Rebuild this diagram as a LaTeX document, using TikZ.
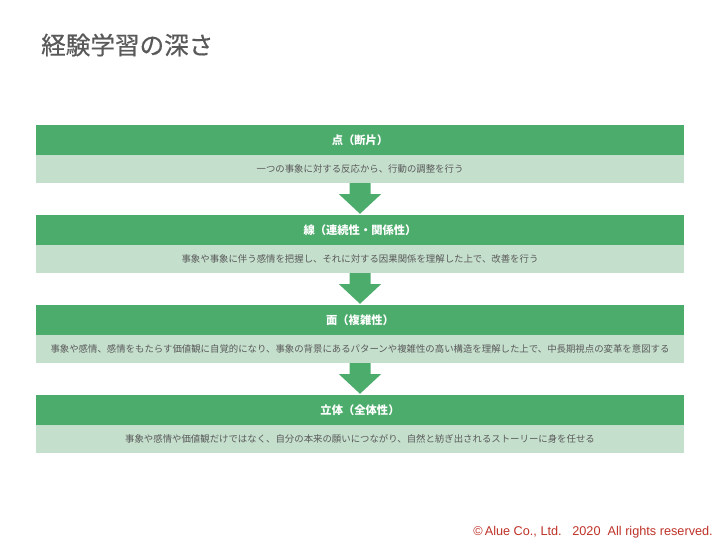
\documentclass[tikz,border=0pt]{standalone}
\usepackage{fontspec}
\setmainfont{Liberation Sans}
\newfontfamily\jp{Noto Sans CJK JP}
\newfontfamily\jptitle[FakeBold=0.6]{Noto Sans CJK JP}
\usetikzlibrary{calc}
\definecolor{hdgreen}{RGB}{76,172,108}
\definecolor{lightgreen}{RGB}{197,223,205}
\definecolor{titlegray}{RGB}{89,89,89}
\definecolor{descgray}{RGB}{90,90,90}
\definecolor{footred}{RGB}{190,50,40}
\tikzset{
  header/.style={fill=hdgreen, minimum width=648pt, minimum height=30pt, inner sep=0pt,
    text=white, font=\jp\bfseries\fontsize{11.3}{13}\selectfont},
  desc/.style={fill=lightgreen, minimum width=648pt, minimum height=28pt, inner sep=0pt,
    text=descgray, font=\jp\fontsize{9.4}{11}\selectfont},
  downarrow/.style={fill=hdgreen}
}
\begin{document}
\begin{tikzpicture}[x=1pt,y=-1pt]
\useasboundingbox (0,0) rectangle (720,540);
\node[anchor=west, text=titlegray, font=\jptitle\fontsize{24.6}{28}\selectfont, inner sep=0pt] (title) at (41,45) {経験学習の深さ};

\node[header] (h1) at (360,140) {点（断片）};
\node[desc]   (d1) at (360,169) {一つの事象に対する反応から、行動の調整を行う};
\node[header] (h2) at (360,230) {線（連続性・関係性）};
\node[desc]   (d2) at (360,259) {事象や事象に伴う感情を把握し、それに対する因果関係を理解した上で、改善を行う};
\node[header] (h3) at (360,320) {面（複雑性）};
\node[desc]   (d3) at (360,349) {事象や感情、感情をもたらす価値観に自覚的になり、事象の背景にあるパターンや複雑性の高い構造を理解した上で、中長期視点の変革を意図する};
\node[header] (h4) at (360,410) {立体（全体性）};
\node[desc]   (d4) at (360,439) {事象や感情や価値観だけではなく、自分の本来の願いにつながり、自然と紡ぎ出されるストーリーに身を任せる};

\foreach \a/\b in {d1/h2, d2/h3, d3/h4}{
  \fill[downarrow] ($(\a.south)+(-10.5,0)$) -- ($(\a.south)+(10.5,0)$) -- ($(\a.south)+(10.5,11)$)
    -- ($(\a.south)+(21,11)$) -- ($(\b.north)+(0,-1)$) -- ($(\a.south)+(-21,11)$)
    -- ($(\a.south)+(-10.5,11)$) -- cycle;
}

\node[anchor=base east, text=footred, font=\fontsize{12.7}{14}\selectfont, inner sep=0pt] (foot) at (713,535) {©\,Alue Co., Ltd.\ \ \ 2020\ \ All rights reserved.};
\end{tikzpicture}
\end{document}
